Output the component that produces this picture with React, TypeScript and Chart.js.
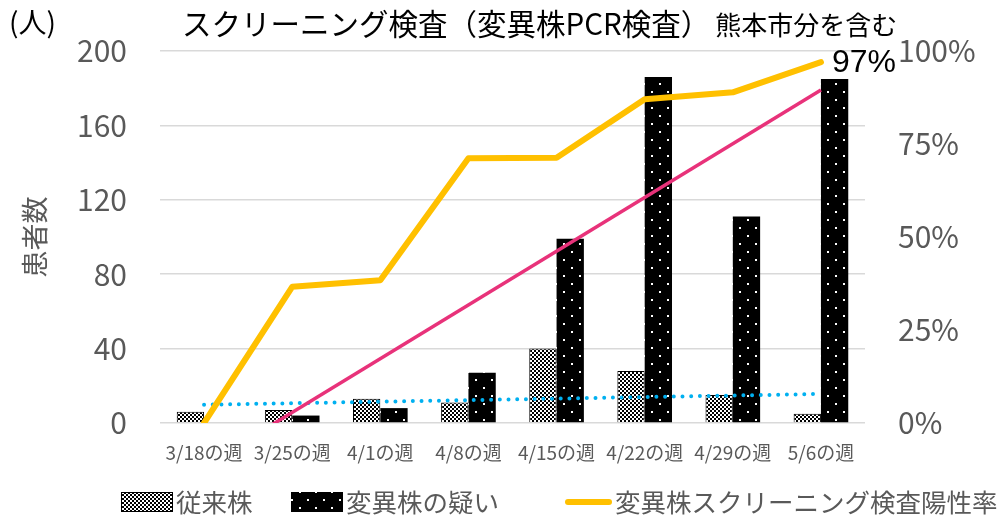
import React, { useEffect, useRef } from "react";
import { Chart, registerables } from "chart.js";

Chart.register(...registerables);

const categories = ["3/18の週", "3/25の週", "4/1の週", "4/8の週", "4/15の週", "4/22の週", "4/29の週", "5/6の週"];
const conventional = [6, 7, 13, 11, 40, 28, 15, 5];
const variantSuspected = [0, 4, 8, 27, 99, 186, 111, 185];
const positiveRate = [0, 36.6, 38.4, 71.2, 71.3, 87, 88.9, 97];
const rateTrend = [-11.6, null, null, null, null, null, null, 89.5];
const conventionalTrend = [9.8, null, null, null, null, null, null, 15.6];
const leftMax = 200;
const leftStep = 40;
const rightMax = 100;
const rightStep = 25;

const titleMain = "スクリーニング検査（変異株PCR検査）";
const titleSub = "熊本市分を含む";
const unitLabel = "(人)";
const yTitle = "患者数";
const labelConventional = "従来株";
const labelVariant = "変異株の疑い";
const labelRate = "変異株スクリーニング検査陽性率";

const FONT = '"Noto Sans CJK JP", "Noto Sans", sans-serif';
const GRAY = "#595959";
const YELLOW = "#FFC000";
const PINK = "#E8327A";
const BLUE = "#00B0F0";

function makeChecker(): CanvasPattern | string {
  const c = document.createElement("canvas");
  c.width = 4;
  c.height = 4;
  const g = c.getContext("2d")!;
  g.fillStyle = "#fff";
  g.fillRect(0, 0, 4, 4);
  g.fillStyle = "#000";
  g.fillRect(0, 0, 2, 2);
  g.fillRect(2, 2, 2, 2);
  return g.createPattern(c, "repeat") || "#888";
}

function makeDots(): CanvasPattern | string {
  const c = document.createElement("canvas");
  c.width = 16;
  c.height = 16;
  const g = c.getContext("2d")!;
  g.fillStyle = "#000";
  g.fillRect(0, 0, 16, 16);
  g.fillStyle = "#fff";
  g.fillRect(3, 3, 2, 2);
  g.fillRect(11, 11, 2, 2);
  return g.createPattern(c, "repeat") || "#000";
}

export default function App() {
  const ref = useRef<HTMLCanvasElement | null>(null);

  useEffect(() => {
    const canvas = ref.current;
    if (!canvas) return;
    const checker = makeChecker();
    const dots = makeDots();

    const overlay = {
      id: "overlay",
      afterDraw(chart: any) {
        const ctx = chart.ctx as CanvasRenderingContext2D;
        ctx.save();
        ctx.textBaseline = "middle";
        ctx.textAlign = "left";
        // title
        ctx.fillStyle = "#000";
        ctx.font = `29.5px ${FONT}`;
        ctx.fillText(titleMain, 182, 24);
        const w = ctx.measureText(titleMain).width;
        ctx.font = `26px ${FONT}`;
        ctx.fillText(titleSub, 182 + w + 5, 25);
        // unit
        ctx.font = `28px ${FONT}`;
        ctx.fillText(unitLabel, 9, 22);
        // last value label
        const meta = chart.getDatasetMeta(0);
        const pts = meta.data;
        const last = pts[pts.length - 1];
        ctx.font = `32px "Liberation Sans", Arial, sans-serif`;
        ctx.fillStyle = "#000";
        ctx.fillText(`${Math.round(positiveRate[positiveRate.length - 1])}%`, last.x + 11, last.y + 1);
        // legend
        const ly = 502;
        ctx.font = `25.5px ${FONT}`;
        // item 1
        let x = 121;
        ctx.fillStyle = checker as any;
        ctx.fillRect(x, ly - 10, 52, 20);
        ctx.strokeStyle = "#000";
        ctx.lineWidth = 1;
        ctx.strokeRect(x + 0.5, ly - 9.5, 51, 19);
        ctx.fillStyle = GRAY;
        ctx.fillText(labelConventional, x + 55, ly);
        // item 2
        x = 291;
        ctx.fillStyle = dots as any;
        ctx.fillRect(x, ly - 10, 52, 20);
        ctx.fillStyle = GRAY;
        ctx.fillText(labelVariant, x + 55, ly);
        // item 3
        x = 565;
        ctx.strokeStyle = YELLOW;
        ctx.lineWidth = 6;
        ctx.lineCap = "round";
        ctx.beginPath();
        ctx.moveTo(x + 3, ly);
        ctx.lineTo(x + 44, ly);
        ctx.stroke();
        ctx.fillStyle = GRAY;
        ctx.fillText(labelRate, x + 50, ly);
        ctx.restore();
      },
    };

    const chart = new Chart(canvas, {
      type: "bar",
      data: {
        labels: categories,
        datasets: [
          {
            type: "line",
            label: labelRate,
            data: positiveRate,
            yAxisID: "y1",
            borderColor: YELLOW,
            backgroundColor: YELLOW,
            borderWidth: 6,
            pointRadius: 0,
            borderJoinStyle: "round",
            borderCapStyle: "round",
            order: 0,
          } as any,
          {
            type: "line",
            label: "rate trend",
            data: rateTrend,
            yAxisID: "y1",
            borderColor: PINK,
            borderWidth: 3.5,
            pointRadius: 0,
            spanGaps: true,
            clip: 0,
            order: 1,
          } as any,
          {
            type: "line",
            label: "conventional trend",
            data: conventionalTrend,
            yAxisID: "y",
            borderColor: BLUE,
            borderWidth: 4,
            borderDash: [0, 8.7],
            borderCapStyle: "round",
            pointRadius: 0,
            spanGaps: true,
            order: 2,
          } as any,
          {
            label: labelConventional,
            data: conventional,
            yAxisID: "y",
            backgroundColor: checker as any,
            borderColor: "#000",
            borderWidth: 1,
            categoryPercentage: 0.62,
            barPercentage: 1,
            order: 3,
          },
          {
            label: labelVariant,
            data: variantSuspected,
            yAxisID: "y",
            backgroundColor: dots as any,
            borderColor: "#000",
            borderWidth: 0,
            categoryPercentage: 0.62,
            barPercentage: 1,
            order: 4,
          },
        ],
      },
      options: {
        responsive: false,
        animation: false,
        layout: { padding: { top: 51, left: 0, right: 0, bottom: 0 } },
        plugins: {
          legend: { display: false },
          tooltip: { enabled: false },
          title: { display: false },
        },
        scales: {
          x: {
            grid: { display: false },
            border: { display: false },
            ticks: {
              color: GRAY,
              font: { family: FONT, size: 19 },
              padding: 10,
              maxRotation: 0,
              autoSkip: false,
            },
            afterFit(scale: any) {
              scale.height = 95;
            },
          },
          y: {
            position: "left",
            min: 0,
            max: leftMax,
            ticks: {
              stepSize: leftStep,
              color: GRAY,
              font: { family: FONT, size: 30 },
              padding: 33,
            },
            grid: { color: "#d9d9d9", lineWidth: 1.5, drawTicks: false },
            border: { display: false },
            title: {
              display: true,
              text: yTitle,
              color: GRAY,
              font: { family: FONT, size: 27 },
              padding: { top: 19, bottom: 0 },
            },
            afterFit(scale: any) {
              scale.width = 160;
            },
          },
          y1: {
            position: "right",
            min: 0,
            max: rightMax,
            ticks: {
              stepSize: rightStep,
              color: GRAY,
              font: { family: FONT, size: 30 },
              padding: 33,
              callback: (v: any) => `${v}%`,
            },
            grid: { display: false, drawTicks: false },
            border: { display: false },
            afterFit(scale: any) {
              scale.width = 132;
            },
          },
        },
      },
      plugins: [overlay],
    });

    return () => chart.destroy();
  }, []);

  return (
    <div style={{ position: "absolute", left: 0, top: 0, width: 997, height: 518, background: "#fff" }}>
      <canvas ref={ref} width={997} height={518} />
    </div>
  );
}
